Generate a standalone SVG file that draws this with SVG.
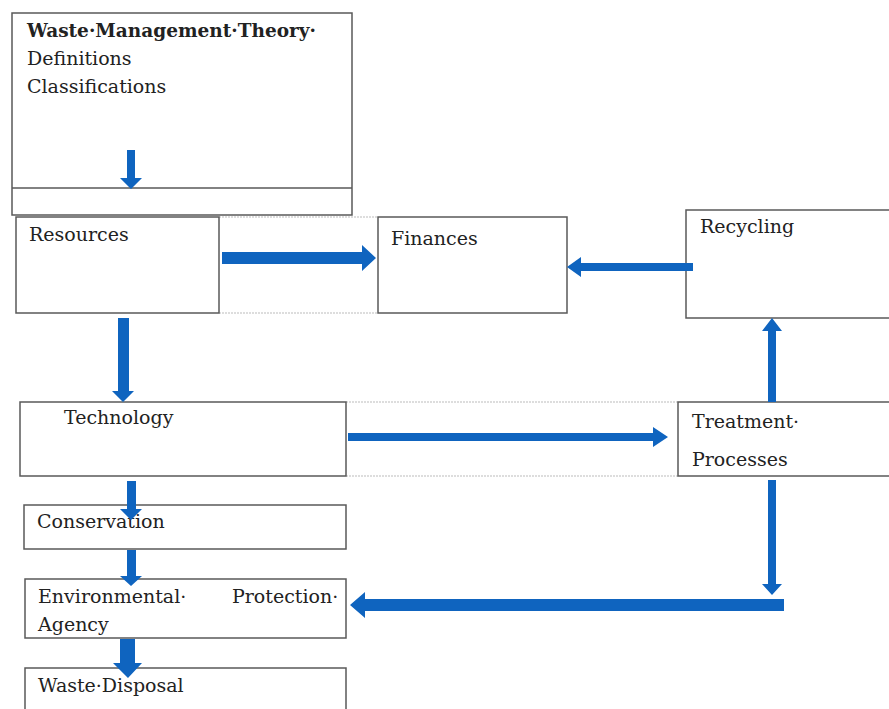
<svg xmlns="http://www.w3.org/2000/svg" width="889" height="709" viewBox="0 0 889 709">
<style>
.box{fill:#fff;stroke:#595959;stroke-width:1.5}
.dot{stroke:#bbb;stroke-width:1;stroke-dasharray:2 1;fill:none}
.t{font-family:"DejaVu Serif","Liberation Serif",serif;font-size:19px;fill:#222}
.b{font-weight:bold;font-size:18.5px}
.arr{fill:#0f64bf}
</style>
<rect width="889" height="709" fill="#fff"/>
<g id="dotted">
<line class="dot" x1="219" y1="217" x2="378" y2="217"/>
<line class="dot" x1="219" y1="313" x2="378" y2="313"/>
<line class="dot" x1="346" y1="402" x2="678" y2="402"/>
<line class="dot" x1="346" y1="476" x2="678" y2="476"/>
</g>
<g id="theory">
<rect class="box" x="12" y="13" width="340" height="202"/>
<line x1="12" y1="188" x2="352" y2="188" stroke="#595959" stroke-width="1.5"/>
<text class="t b" x="27" y="37">Waste·Management·Theory·</text>
<text class="t" x="27" y="65">Definitions</text>
<text class="t" x="27" y="93">Classifications</text>
</g>
<g id="resources">
<rect class="box" x="16" y="217" width="203" height="96"/>
<text class="t" x="29" y="241">Resources</text>
</g>
<g id="finances">
<rect class="box" x="378" y="217" width="189" height="96"/>
<text class="t" x="391" y="245">Finances</text>
</g>
<g id="recycling">
<rect class="box" x="686" y="210" width="210" height="108"/>
<text class="t" x="700" y="233">Recycling</text>
</g>
<g id="technology">
<rect class="box" x="20" y="402" width="326" height="74"/>
<text class="t" x="64" y="424">Technology</text>
</g>
<g id="treatment">
<rect class="box" x="678" y="402" width="218" height="74"/>
<text class="t" x="692" y="428">Treatment·</text>
<text class="t" x="692" y="466">Processes</text>
</g>
<g id="conservation">
<rect class="box" x="24" y="505" width="322" height="44"/>
<text class="t" x="37" y="528">Conservation</text>
</g>
<g id="epa">
<rect class="box" x="25" y="579" width="321" height="59"/>
<text class="t" x="38" y="603">Environmental·</text>
<text class="t" x="232" y="603">Protection·</text>
<text class="t" x="38" y="631">Agency</text>
</g>
<g id="disposal">
<rect class="box" x="25" y="668" width="321" height="50"/>
<text class="t" x="38" y="692">Waste·Disposal</text>
</g>
<g id="connectors">
<polygon class="arr" points="127,150 135,150 135,178 142,178 131,189 120,178 127,178"/>
<polygon class="arr" points="222,252 362,252 362,245 376,258 362,271 362,264 222,264"/>
<polygon class="arr" points="693,263 581,263 581,257 567,267 581,277 581,271 693,271"/>
<polygon class="arr" points="118,318 129,318 129,391 134,391 123,402 112,391 118,391"/>
<polygon class="arr" points="348,433 653,433 653,427 668,437 653,447 653,441 348,441"/>
<polygon class="arr" points="768,402 776,402 776,331 782,331 772,318 762,331 768,331"/>
<polygon class="arr" points="768,480 776,480 776,584 782,584 772,595 762,584 768,584"/>
<polygon class="arr" points="784,599 365,599 365,592 350,605 365,618 365,611 784,611"/>
<polygon class="arr" points="127,481 136,481 136,509 142,509 131,520 120,509 127,509"/>
<polygon class="arr" points="127,550 136,550 136,576 142,576 131,586 120,576 127,576"/>
<polygon class="arr" points="120,639 135,639 135,663 142,663 128,678 113,663 120,663"/>
</g>
</svg>
